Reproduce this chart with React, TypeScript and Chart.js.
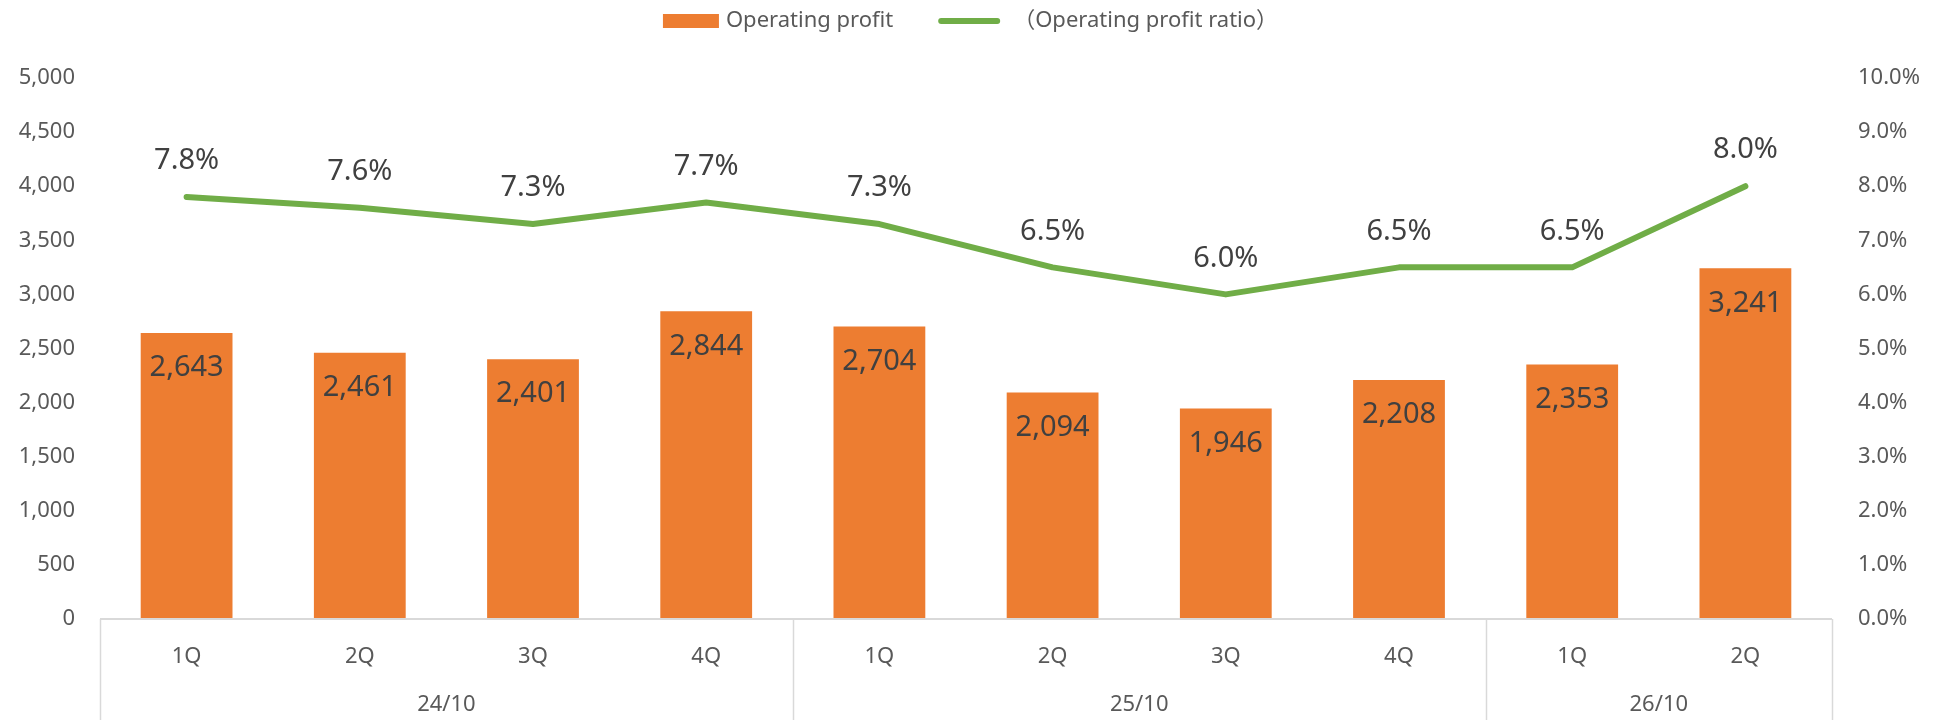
import React, { useEffect, useRef } from "react";
import { Chart, registerables } from "chart.js";

Chart.register(...registerables);

const quarters = ["1Q", "2Q", "3Q", "4Q", "1Q", "2Q", "3Q", "4Q", "1Q", "2Q"];
const groups = ["24/10", "25/10", "26/10"];
const groupSizes = [4, 4, 2];
const operatingProfit = [2643, 2461, 2401, 2844, 2704, 2094, 1946, 2208, 2353, 3241];
const profitRatio = [7.8, 7.6, 7.3, 7.7, 7.3, 6.5, 6.0, 6.5, 6.5, 8.0];
const seriesNames = ["Operating profit", "（Operating profit ratio）"];

const FONT = "'Noto Sans', 'Noto Sans CJK JP', sans-serif";
const BAR_COLOR = "#ED7D31";
const LINE_COLOR = "#70AD47";
const AXIS_TEXT = "#595959";
const LABEL_TEXT = "#404040";
const RULE = "#D9D9D9";

const labelsPlugin = {
  id: "valueLabels",
  afterDatasetsDraw(chart: any) {
    const ctx = chart.ctx;
    ctx.save();
    ctx.font = `29px ${FONT}`;
    ctx.fillStyle = LABEL_TEXT;
    ctx.textAlign = "center";
    ctx.textBaseline = "middle";
    chart.data.datasets.forEach((ds: any, di: number) => {
      const meta = chart.getDatasetMeta(di);
      meta.data.forEach((el: any, i: number) => {
        const v = ds.data[i];
        if (ds.type === "bar") {
          ctx.fillText(v.toLocaleString("en-US"), el.x, el.y + 35);
        } else {
          ctx.fillText(v.toFixed(1) + "%", el.x, el.y - 36);
        }
      });
    });
    ctx.restore();
  },
};

const groupAxisPlugin = {
  id: "groupAxis",
  afterDraw(chart: any) {
    const ctx = chart.ctx;
    const area = chart.chartArea;
    const n = quarters.length;
    const catW = (area.right - area.left) / n;
    const bottom = chart.height;
    ctx.save();
    ctx.strokeStyle = RULE;
    ctx.lineWidth = 2;
    ctx.beginPath();
    ctx.moveTo(area.left, area.bottom);
    ctx.lineTo(area.right, area.bottom);
    ctx.stroke();
    ctx.lineWidth = 1.5;
    let start = 0;
    const bounds: number[] = [0];
    groupSizes.forEach((s) => {
      start += s;
      bounds.push(start);
    });
    bounds.forEach((b) => {
      const px = Math.round(area.left + b * catW) + 0.5;
      ctx.beginPath();
      ctx.moveTo(px, area.bottom);
      ctx.lineTo(px, bottom);
      ctx.stroke();
    });
    ctx.font = `22px ${FONT}`;
    ctx.fillStyle = AXIS_TEXT;
    ctx.textAlign = "center";
    ctx.textBaseline = "middle";
    groups.forEach((g, gi) => {
      const c = area.left + ((bounds[gi] + bounds[gi + 1]) / 2) * catW;
      ctx.fillText(g, c, 705);
    });
    ctx.restore();
  },
};

const legendPlugin = {
  id: "customLegend",
  afterDraw(chart: any) {
    const ctx = chart.ctx;
    ctx.save();
    ctx.font = `22px ${FONT}`;
    ctx.textBaseline = "middle";
    ctx.textAlign = "left";
    const w1 = ctx.measureText(seriesNames[0]).width;
    const w2 = ctx.measureText(seriesNames[1]).width;
    const boxW = 56;
    const lineW = 62;
    const total = boxW + 7 + w1 + 45 + lineW + 13 + w2;
    const cy = 21;
    let cx = (chart.width - total) / 2 + 2;
    ctx.fillStyle = BAR_COLOR;
    ctx.fillRect(cx, cy - 7, boxW, 14);
    cx += boxW + 7;
    ctx.fillStyle = AXIS_TEXT;
    ctx.fillText(seriesNames[0], cx, cy);
    cx += w1 + 45;
    ctx.strokeStyle = LINE_COLOR;
    ctx.lineWidth = 6;
    ctx.lineCap = "round";
    ctx.beginPath();
    ctx.moveTo(cx + 3, cy);
    ctx.lineTo(cx + lineW - 3, cy);
    ctx.stroke();
    cx += lineW + 13;
    ctx.fillStyle = AXIS_TEXT;
    ctx.fillText(seriesNames[1], cx, cy);
    ctx.restore();
  },
};

export default function App() {
  const ref = useRef<HTMLCanvasElement | null>(null);
  useEffect(() => {
    document.body.style.margin = "0";
    Chart.defaults.font.family = FONT;
    const chart = new Chart(ref.current as HTMLCanvasElement, {
      type: "bar",
      data: {
        labels: quarters,
        datasets: [
          {
            type: "line",
            label: seriesNames[1],
            data: profitRatio,
            yAxisID: "y1",
            borderColor: LINE_COLOR,
            backgroundColor: LINE_COLOR,
            borderWidth: 6,
            pointRadius: 0,
            tension: 0,
            borderCapStyle: "round",
            borderJoinStyle: "round",
            order: 0,
          } as any,
          {
            type: "bar",
            label: seriesNames[0],
            data: operatingProfit,
            yAxisID: "y",
            backgroundColor: BAR_COLOR,
            barPercentage: 0.53,
            categoryPercentage: 1,
            order: 1,
          } as any,
        ],
      },
      options: {
        responsive: false,
        animation: false,
        layout: { padding: { top: 78, left: 0, right: 0, bottom: 0 } },
        plugins: {
          legend: { display: false },
          tooltip: { enabled: false },
        },
        scales: {
          x: {
            grid: { display: false, drawTicks: false },
            border: { display: false },
            ticks: { color: AXIS_TEXT, font: { size: 22, family: FONT }, padding: 25, maxRotation: 0 },
            afterFit: (s: any) => {
              s.height = 101;
            },
          },
          y: {
            position: "left",
            min: 0,
            max: 5000,
            grid: { display: false, drawTicks: false },
            border: { display: false },
            ticks: {
              stepSize: 500,
              color: AXIS_TEXT,
              font: { size: 22, family: FONT },
              padding: 25,
              callback: (v: any) => Number(v).toLocaleString("en-US"),
            },
            afterFit: (s: any) => {
              s.width = 100;
            },
          },
          y1: {
            position: "right",
            min: 0,
            max: 10,
            grid: { display: false, drawTicks: false },
            border: { display: false },
            ticks: {
              stepSize: 1,
              color: AXIS_TEXT,
              font: { size: 22, family: FONT },
              padding: 26,
              callback: (v: any) => Number(v).toFixed(1) + "%",
            },
            afterFit: (s: any) => {
              s.width = 105;
            },
          },
        },
      } as any,
      plugins: [labelsPlugin, groupAxisPlugin, legendPlugin],
    });
    return () => chart.destroy();
  }, []);
  return <canvas ref={ref} width={1937} height={720} style={{ display: "block" }} />;
}
